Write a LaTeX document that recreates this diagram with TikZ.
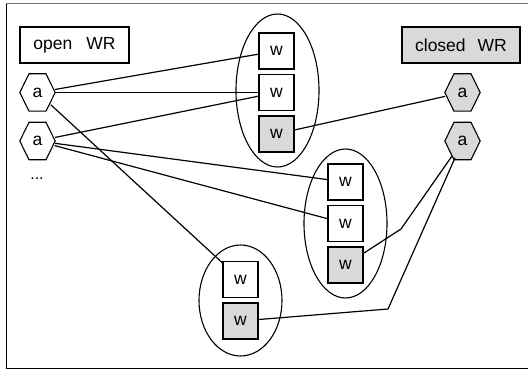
\documentclass[tikz,border=0pt]{standalone}
\usepackage{fontspec}
\setmainfont{Liberation Sans}
\usepackage{tikz}
\usetikzlibrary{shapes,arrows}
\usetikzlibrary{positioning,fit,backgrounds}
\tikzstyle{wbox} = [draw, rectangle, line width=1.3pt, minimum width=35pt,
    minimum height=36pt, inner sep=0pt,
    font=\fontsize{17.5}{20}\selectfont, node distance=41.5pt]
\tikzstyle{wdone} = [wbox, fill=black!15]
\tikzstyle{actor} = [ellipse, minimum width=35pt, minimum height=37pt,
    inner sep=0pt, font=\fontsize{17.5}{20}\selectfont, node distance=48.5pt]
\tikzstyle{group} = [draw, ellipse, line width=1.1pt, minimum width=83pt,
    inner sep=0pt]
\tikzstyle{legend} = [draw, rectangle, line width=1.3pt, minimum height=36pt,
    inner sep=0pt, font=\fontsize{17.5}{20}\selectfont]
\tikzstyle{link} = [line width=1.2pt]

\begin{document}
\begin{tikzpicture}[x=1pt,y=-1pt]
  \useasboundingbox (0,0) rectangle (528,369);
  % frame
  \draw [black!55, line width=1pt] (528,4) -- (6,4);
  \draw [line width=1pt] (6,4) -- (6,368) -- (528,368);

  % legend
  \node [legend, minimum width=109pt] (openwr) at (74.5,45)
  {open\hspace{14pt}WR};
  \node [legend, minimum width=118pt, fill=black!15] (closedwr) at (461,45)
  {closed\hspace{12pt}WR};

  % actors
  \node [actor] (al1) at (37.5,92.5) {a};
  \node [actor, below of=al1] (al2) {a};
  \node (dots) at (37,179) {\fontsize{16}{18}\selectfont ...};
  \node [actor] (ar1) at (462.5,92.5) {a};
  \node [actor, below of=ar1] (ar2) {a};
  \begin{pgfonlayer}{background}
    \foreach \n/\c in {al1/white, al2/white, ar1/black!15, ar2/black!15}
      \draw [fill=\c, line width=1.1pt] (\n.west) -- ([xshift=-8.5pt]\n.north)
        -- ([xshift=8.5pt]\n.north) -- (\n.east) -- ([xshift=8.5pt]\n.south)
        -- ([xshift=-8.5pt]\n.south) -- cycle;
  \end{pgfonlayer}

  % groups of w
  \node [group, minimum height=153pt] (ga) at (277.5,90.5) {};
  \node [wbox] (wa1) at (276.5,51) {w};
  \node [wbox, below of=wa1] (wa2) {w};
  \node [wdone, below of=wa2] (wa3) {w};

  \node [group, minimum height=149pt] (gb) at (345.5,223.5) {};
  \node [wbox] (wb1) at (345.5,182) {w};
  \node [wbox, below of=wb1] (wb2) {w};
  \node [wdone, below of=wb2] (wb3) {w};

  \node [group, minimum height=111pt] (gc) at (240.5,300.5) {};
  \node [wbox] (wc1) at (240.5,279.5) {w};
  \node [wdone, below of=wc1] (wc2) {w};

  \coordinate (bendb) at (401,229);
  \coordinate (bendc) at (388,309);

  % links
  \draw [link] (al1) -- (wa1);
  \draw [link] (al1) -- (wa2);
  \draw [link] (al2) -- (wa2);
  \draw [link] (al1) -- (wc1);
  \draw [link] (al2) -- (wb1);
  \draw [link] (al2) -- (wb2);
  \draw [link] (wa3) -- (ar1);
  \draw [link] (ar2) -- (bendb) -- (wb3);
  \draw [link] (ar2) -- (bendc) -- (wc2);
\end{tikzpicture}
\end{document}
